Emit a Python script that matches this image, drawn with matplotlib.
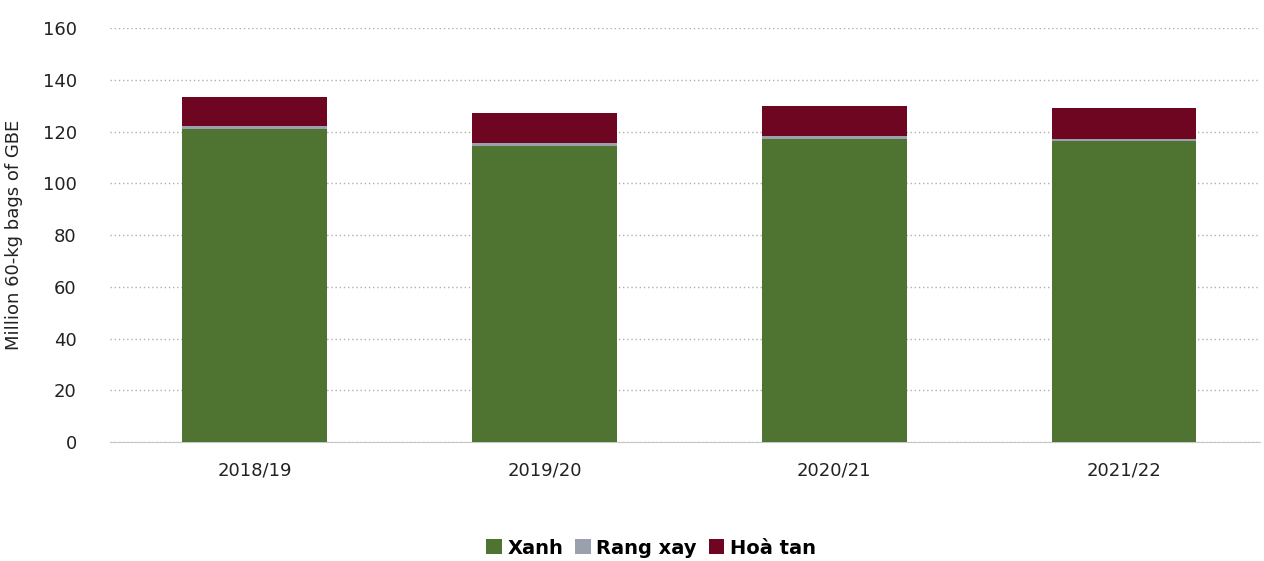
import numpy as np
import matplotlib.pyplot as plt

# data
years = ['2018/19', '2019/20', '2020/21', '2021/22']
xanh = [121.0, 114.6, 117.3, 116.3]
rang_xay = [1.0, 1.0, 1.0, 1.0]
hoa_tan = [11.4, 11.7, 11.5, 11.9]

fig = plt.figure(figsize=(12.64, 5.61), dpi=100)
ax = fig.add_axes([0.087, 0.212, 0.91, 0.738])

x = np.arange(len(years))
w = 0.5
ax.bar(x, xanh, w, color='#4f7431', label='Xanh', zorder=3)
ax.bar(x, rang_xay, w, bottom=xanh, color='#9aa0ae', label='Rang xay', zorder=3)
bot = np.array(xanh) + np.array(rang_xay)
ax.bar(x, hoa_tan, w, bottom=bot, color='#6e0622', label='Hoà tan', zorder=3)

ax.set_ylim(0, 160)
ax.set_xlim(-0.5, 3.47)
ax.set_yticks(range(0, 161, 20))
ax.set_xticks(x)
ax.set_xticklabels(years)
ax.yaxis.grid(True, linestyle=(0, (1, 2)), color='#b0b0b0', linewidth=1, zorder=0)
for s in ['top', 'right', 'left']:
    ax.spines[s].set_visible(False)
ax.spines['bottom'].set_color('#c8c8c8')
ax.tick_params(axis='both', length=0, labelsize=13, colors='#222222')
ax.tick_params(axis='x', pad=14)
ax.tick_params(axis='y', pad=24)
ax.set_ylabel('Million 60-kg bags of GBE', fontsize=13, color='#222222', labelpad=14)

fig.legend(loc='lower center', bbox_to_anchor=(0.515, -0.025), ncol=3, frameon=False,
           prop={'size': 14, 'weight': 'bold'}, handlelength=0.8, handleheight=0.8,
           handletextpad=0.3, columnspacing=0.6)

fig.savefig('out.png', dpi=100)
